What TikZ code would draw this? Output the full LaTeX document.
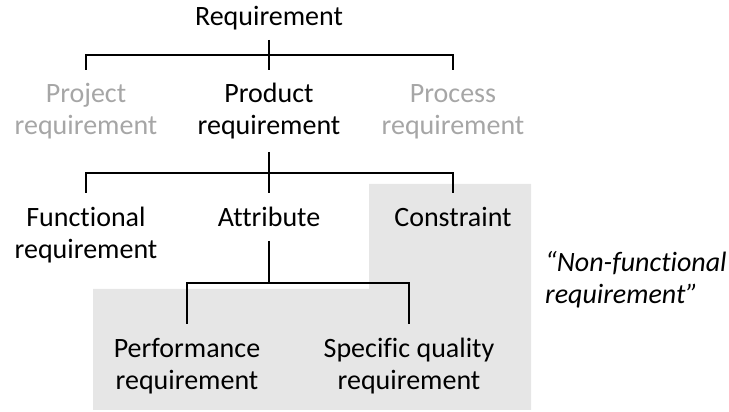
\documentclass[tikz,border=0pt]{standalone}
\usepackage{fontspec}
\setmainfont[Ligatures={NoCommon}]{Carlito}
\usepackage{xcolor}
\usetikzlibrary{positioning}
\definecolor{nfgray}{HTML}{E6E6E6}
\definecolor{faded}{HTML}{A6A6A6}
\tikzset{
	lbl/.style={font=\fontsize{28}{32}\selectfont, align=center, inner sep=0pt, anchor=base},
	dim/.style={lbl, text=faded},
	bus/.style={line width=1.1pt, black}
}
\begin{document}
\begin{tikzpicture}[x=1pt, y=1pt]
			\useasboundingbox (0,0) rectangle (729,412);
			% shaded non-functional area
			\fill[nfgray] (369,228) -- (531,228) -- (531,2) -- (93,2) -- (93,123) -- (369,123) -- cycle;
			% labels (base = last line)
			\node[lbl] (req) at (269,386) {Requirement};
			\node[dim] (proj) at (86,277) {Project\\requirement};
			\node[lbl] (prod) at (269,277) {Product\\requirement};
			\node[dim] (proc) at (453,277) {Process\\requirement};
			\node[lbl] (func) at (86,153) {Functional\\requirement};
			\node[lbl] (attr) at (269,185) {Attribute};
			\node[lbl] (cons) at (453,185) {Constraint};
			\node[lbl] (perf) at (187,22) {Performance\\requirement};
			\node[lbl] (spec) at (409,22) {Specific quality\\requirement};
			\node[lbl, anchor=base west, align=left, font=\fontsize{28}{32}\selectfont\itshape] (nf) at (545,108) {“Non-functional\\requirement”};
			% first level
			\draw[bus] (req.base) ++(0,-14) -- ++(0,-30);
			\draw[bus] (proj.base) ++(0,65) |- ([yshift=80pt]proc.base) -- ++(0,-15);
			% second level
			\draw[bus] (prod.base) ++(0,-17) -- ++(0,-41);
			\draw[bus] (func.base) ++(0,66) |- ([yshift=54pt]cons.base) -- ++(0,-20);
			% third level
			\draw[bus] (attr.base) ++(0,-14) -- ++(0,-42);
			\draw[bus] (perf.base) ++(0,66) |- ([yshift=107pt]spec.base) -- ++(0,-41);
		\end{tikzpicture}
\end{document}
